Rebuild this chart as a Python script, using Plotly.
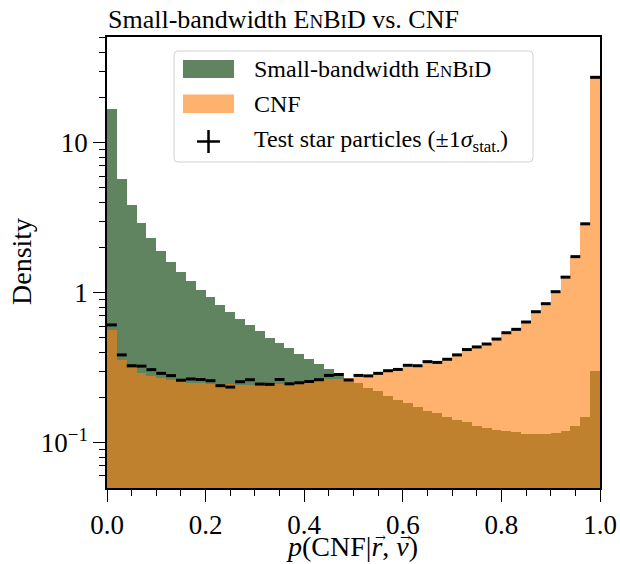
import numpy as np
import plotly.graph_objects as go

# ---- data (50 bins on [0, 1]) ----
bin_edges = np.linspace(0.0, 1.0, 51)
bin_centers = 0.5 * (bin_edges[:-1] + bin_edges[1:])
bin_halfwidth = [0.01] * 50

enbid_density = [16.8, 5.7, 3.86, 2.9, 2.31, 1.90, 1.60, 1.37, 1.19, 1.05,
                 0.93, 0.83, 0.74, 0.67, 0.61, 0.553, 0.50, 0.46, 0.426, 0.39,
                 0.361, 0.333, 0.309, 0.29, 0.265, 0.251, 0.233, 0.221, 0.205, 0.193,
                 0.183, 0.173, 0.163, 0.157, 0.148, 0.142, 0.137, 0.130, 0.126, 0.122,
                 0.119, 0.117, 0.114, 0.115, 0.115, 0.116, 0.120, 0.129, 0.148, 0.301]

cnf_density = [0.564, 0.356, 0.316, 0.293, 0.278, 0.269, 0.262, 0.255, 0.251, 0.250,
               0.248, 0.247, 0.245, 0.242, 0.243, 0.245, 0.246, 0.248, 0.251, 0.255,
               0.260, 0.262, 0.264, 0.267, 0.270, 0.279, 0.281, 0.288, 0.300, 0.310,
               0.322, 0.330, 0.343, 0.350, 0.362, 0.383, 0.412, 0.437, 0.458, 0.488,
               0.535, 0.575, 0.635, 0.745, 0.850, 1.01, 1.28, 1.74, 2.88, 27.2]

test_density = [0.61, 0.385, 0.326, 0.324, 0.307, 0.290, 0.280, 0.261, 0.266, 0.264,
                0.259, 0.240, 0.235, 0.255, 0.263, 0.246, 0.245, 0.264, 0.247, 0.251,
                0.256, 0.263, 0.281, 0.285, 0.262, 0.281, 0.279, 0.290, 0.302, 0.308,
                0.328, 0.326, 0.347, 0.343, 0.360, 0.385, 0.418, 0.435, 0.455, 0.491,
                0.541, 0.570, 0.638, 0.747, 0.845, 1.016, 1.27, 1.74, 2.88, 27.3]

x_tick_vals = [0.0, 0.2, 0.4, 0.6, 0.8, 1.0]
x_tick_text = ["0.0", "0.2", "0.4", "0.6", "0.8", "1.0"]
y_tick_vals = [0.1, 1, 10]
y_tick_text = ["10<sup>\u22121</sup>", "1", "10"]
y_minor_vals = [0.06, 0.07, 0.08, 0.09, 0.2, 0.3, 0.4, 0.5, 0.6, 0.7, 0.8, 0.9,
                2, 3, 4, 5, 6, 7, 8, 9, 20, 30, 40, 50]


def enbid(sc_size):
    sc = f'<span style="font-size:{sc_size}px">'
    return "Small-bandwidth E" + sc + "N</span>B" + sc + "I</span>D"


title_text = enbid(19) + " vs. CNF"
test_label = "Test star particles (\u00b11<i>\u03c3</i><sub>stat.</sub>)"
x_title = "<i>p</i>(CNF|<i>r</i>, <i>v</i>)"

FONT = "Liberation Serif"
GREEN = "rgb(96,132,96)"
ORANGE = "rgba(255,127,14,0.6)"

# body margin is removed by the post script, so the figure fills the window
W, H = 620, 564
PL, PR, PT, PB = 107, 600, 37, 488          # plot area in window pixels
L, R, T, B = PL, W - PR, PT, H - PB
PW, PH = PR - PL, PB - PT


def px(xp):
    return (xp - PL) / PW


def py(yp):
    return (PB - yp) / PH


fig = go.Figure()
fig.add_trace(go.Bar(x=bin_centers, y=enbid_density, width=0.02,
                     marker=dict(color=GREEN, line=dict(width=0)),
                     name="Small-bandwidth EnBiD", showlegend=False))
fig.add_trace(go.Bar(x=bin_centers, y=cnf_density, width=0.02,
                     marker=dict(color=ORANGE, line=dict(width=0)),
                     name="CNF", showlegend=False))
fig.add_trace(go.Scatter(x=bin_centers, y=test_density, mode="markers",
                         marker=dict(size=1, color="black"),
                         error_x=dict(type="data", array=bin_halfwidth, symmetric=True,
                                      color="black", thickness=3, width=0),
                         name="Test star particles", showlegend=False))

shapes = []
# legend box
x0, x1, y0, y1, r = 174, 533, 51, 162, 4
path = (f"M {px(x0 + r)} {py(y0)} L {px(x1 - r)} {py(y0)} "
        f"Q {px(x1)} {py(y0)} {px(x1)} {py(y0 + r)} L {px(x1)} {py(y1 - r)} "
        f"Q {px(x1)} {py(y1)} {px(x1 - r)} {py(y1)} L {px(x0 + r)} {py(y1)} "
        f"Q {px(x0)} {py(y1)} {px(x0)} {py(y1 - r)} L {px(x0)} {py(y0 + r)} "
        f"Q {px(x0)} {py(y0)} {px(x0 + r)} {py(y0)} Z")
shapes.append(dict(type="path", xref="paper", yref="paper", path=path,
                   fillcolor="rgba(255,255,255,0.8)", line=dict(color="#d0d0d0", width=1)))
shapes.append(dict(type="rect", xref="paper", yref="paper", x0=px(183), x1=px(234),
                   y0=py(60), y1=py(78), fillcolor=GREEN, line=dict(width=0)))
shapes.append(dict(type="rect", xref="paper", yref="paper", x0=px(183), x1=px(234),
                   y0=py(94.5), y1=py(113), fillcolor="rgb(255,178,110)", line=dict(width=0)))
shapes.append(dict(type="line", xref="paper", yref="paper", x0=px(197), x1=px(220),
                   y0=py(141.5), y1=py(141.5), line=dict(color="black", width=2.5)))
shapes.append(dict(type="line", xref="paper", yref="paper", x0=px(208.5), x1=px(208.5),
                   y0=py(130), y1=py(153), line=dict(color="black", width=2.5)))

annotations = []
for text, yc in [(enbid(17), 69), ("CNF", 104), (test_label, 141)]:
    annotations.append(dict(text=text, xref="paper", yref="paper", x=px(252), y=py(yc),
                            xanchor="left", yanchor="middle", showarrow=False,
                            font=dict(family=FONT, size=24, color="black")))
annotations.append(dict(text=title_text, xref="paper", yref="paper", x=px(106), y=py(19),
                        xanchor="left", yanchor="middle", showarrow=False,
                        font=dict(family=FONT, size=26, color="black")))
# x-axis title with vector arrows
annotations.append(dict(text=x_title, xref="paper", yref="paper", x=px(352), y=py(546),
                        xanchor="center", yanchor="middle", showarrow=False,
                        font=dict(family=FONT, size=28, color="black")))
for xa in (380, 405):
    annotations.append(dict(text="\u2192", xref="paper", yref="paper", x=px(xa), y=py(537),
                            xanchor="center", yanchor="middle", showarrow=False,
                            font=dict(family="DejaVu Serif", size=13, color="black")))
# y-axis title
annotations.append(dict(text="Density", xref="paper", yref="paper", x=px(21), y=py(262),
                        xanchor="center", yanchor="middle", textangle=-90, showarrow=False,
                        font=dict(family=FONT, size=28, color="black")))

fig.update_layout(
    width=W, height=H,
    margin=dict(l=L, r=R, t=T, b=B, autoexpand=False),
    paper_bgcolor="white", plot_bgcolor="white",
    barmode="overlay", bargap=0,
    font=dict(family=FONT, color="black"),
    shapes=shapes, annotations=annotations,
    showlegend=False,
)
fig.update_xaxes(range=[0, 1], showline=True, mirror=True, linecolor="black", linewidth=1.5,
                 ticks="outside", ticklen=12, tickwidth=1.3, tickcolor="black",
                 tickvals=x_tick_vals, ticktext=x_tick_text, ticklabeloverflow="allow",
                 tickfont=dict(family=FONT, size=27, color="black"),
                 minor=dict(ticks="outside", ticklen=6, tickwidth=1.2, tickcolor="black",
                            dtick=0.05, tick0=0, showgrid=False),
                 showgrid=False, zeroline=False, automargin=False)
fig.update_yaxes(type="log", range=[-1.302, 1.705], showline=True, mirror=True,
                 linecolor="black", linewidth=1.5,
                 ticks="outside", ticklen=12, tickwidth=1.3, tickcolor="black",
                 tickvals=y_tick_vals, ticktext=y_tick_text,
                 tickfont=dict(family=FONT, size=27, color="black"),
                 minor=dict(ticks="outside", ticklen=6, tickwidth=1.2, tickcolor="black",
                            tickvals=y_minor_vals, showgrid=False),
                 showgrid=False, zeroline=False, automargin=False)

fig.write_html("out.html", config={"displayModeBar": False},
               post_script="document.documentElement.style.margin='0';"
                           "document.body.style.margin='0';"
                           "document.documentElement.style.overflow='hidden';"
                           "document.body.style.overflow='hidden';")
